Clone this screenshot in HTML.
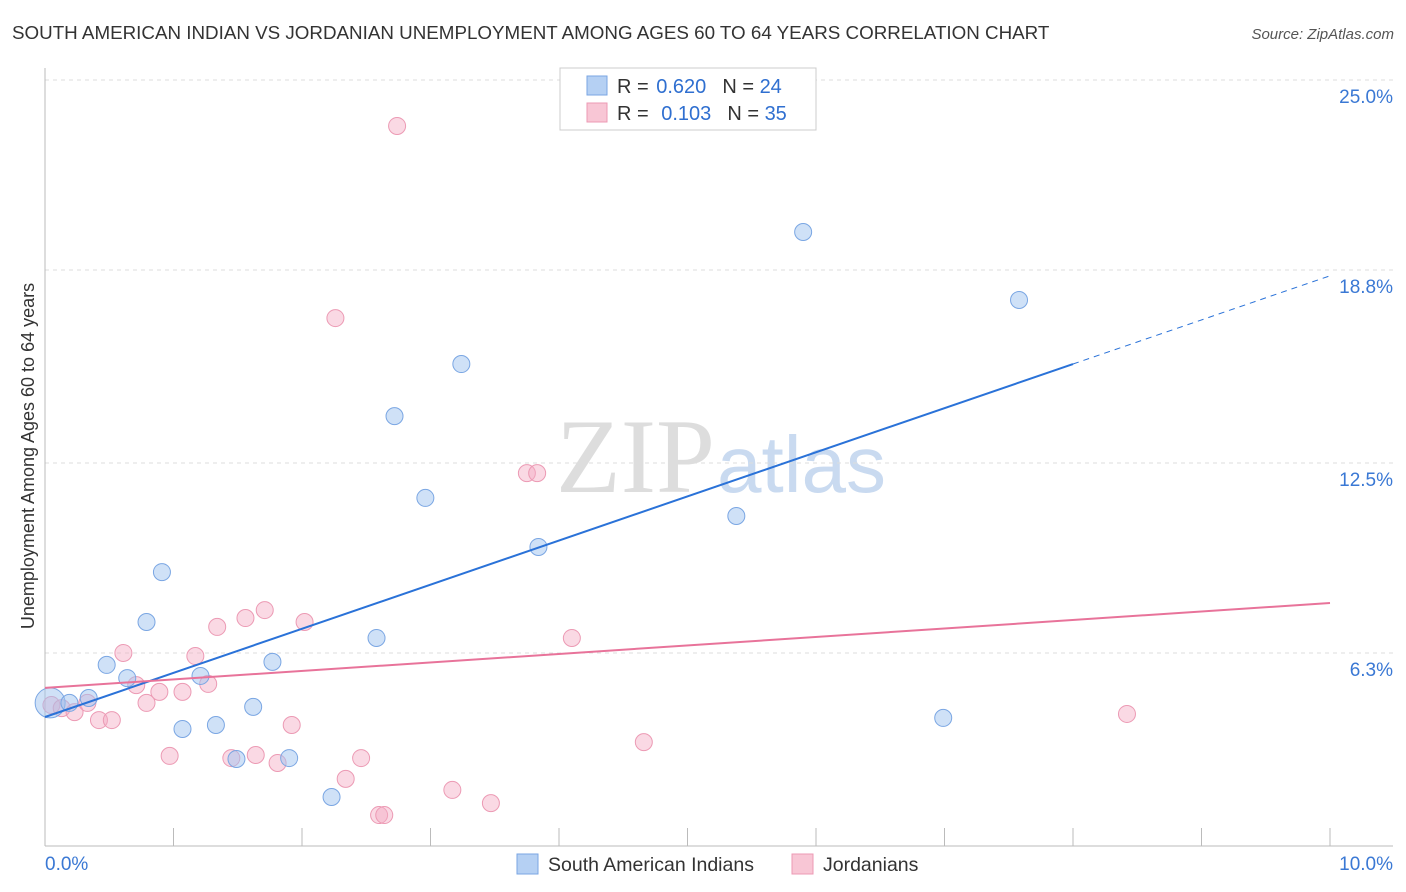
<!DOCTYPE html>
<html><head><meta charset="utf-8"><style>
body{margin:0;background:#fff;font-family:"Liberation Sans",sans-serif;}
#wrap{position:relative;width:1406px;height:892px;overflow:hidden;}
</style></head><body>
<div id="wrap">
<svg id="svg" width="1406" height="892">
<text x="12" y="39" font-size="18.8" fill="#333">SOUTH AMERICAN INDIAN VS JORDANIAN UNEMPLOYMENT AMONG AGES 60 TO 64 YEARS CORRELATION CHART</text>
<text x="1394" y="39" font-size="15" fill="#555" font-style="italic" text-anchor="end">Source: ZipAtlas.com</text>
<text x="715" y="492" font-size="106" fill="#ddd" text-anchor="end" font-family="Liberation Serif">ZIP</text>
<text x="717" y="492" font-size="80" fill="#c9daf0">atlas</text>
<text transform="translate(34,456) rotate(-90)" font-size="18" fill="#333" text-anchor="middle">Unemployment Among Ages 60 to 64 years</text>
<g id="grid"></g><g id="marks"></g>
<g>
<rect x="560" y="68" width="256" height="62" fill="#fff" stroke="#ccc"/>
<rect x="587" y="76" width="20" height="19" fill="#b5d0f3" stroke="#7aa6e3"/>
<rect x="587" y="103" width="20" height="19" fill="#f8c6d5" stroke="#ec9ab4"/>
<text x="617" y="93" font-size="20" fill="#333">R = <tspan fill="#2f6fd0" dx="2">0.620</tspan><tspan dx="16">N = </tspan><tspan fill="#2f6fd0">24</tspan></text>
<text x="617" y="120" font-size="20" fill="#333">R = <tspan fill="#2f6fd0" dx="7">0.103</tspan><tspan dx="16">N = </tspan><tspan fill="#2f6fd0">35</tspan></text>
</g>
<g>
<rect x="517" y="854" width="21" height="20" fill="#b5d0f3" stroke="#7aa6e3"/>
<text x="548" y="871" font-size="19.5" fill="#333">South American Indians</text>
<rect x="792" y="854" width="21" height="20" fill="#f8c6d5" stroke="#ec9ab4"/>
<text x="823" y="871" font-size="19.5" fill="#333">Jordanians</text>
</g>
</svg></div>
<script>
const blueX=[0.04,0.19,0.34,0.48,0.64,0.79,0.91,1.07,1.21,1.33,1.49,1.62,1.77,1.90,2.23,2.58,2.72,2.96,3.24,3.84,5.38,5.90,6.99,7.58];
const blueY=[4.67,4.67,4.83,5.91,5.48,7.31,8.94,3.82,5.55,3.95,2.84,4.54,6.01,2.87,1.60,6.79,14.03,11.36,15.73,9.76,10.77,20.04,4.18,17.82];
const pinkX=[0.05,0.13,0.23,0.33,0.42,0.52,0.61,0.71,0.79,0.89,0.97,1.07,1.17,1.27,1.34,1.45,1.56,1.64,1.71,1.81,1.92,2.02,2.26,2.34,2.46,2.60,2.64,2.74,3.17,3.47,3.75,3.83,4.10,4.66,8.42];
const pinkY=[4.60,4.50,4.37,4.67,4.11,4.11,6.30,5.25,4.67,5.03,2.94,5.03,6.20,5.29,7.15,2.87,7.44,2.97,7.70,2.71,3.95,7.31,17.23,2.19,2.87,1.01,1.01,23.50,1.83,1.40,12.17,12.17,6.79,3.39,4.31];
const blueTrend=[4.21,1.44,8.0];
const pinkTrend=[5.16,0.277];
const yTicks=[6.3,12.5,18.8,25.0];
const yTickLabels=["6.3%","12.5%","18.8%","25.0%"];
const xTicks=[0,1,2,3,4,5,6,7,8,9,10];
const NS="http://www.w3.org/2000/svg";
const sx=v=>45+v*128.5, sy=v=>846-v*30.64;
function mk(t,a,p){const e=document.createElementNS(NS,t);for(const k in a)e.setAttribute(k,a[k]);p.appendChild(e);return e;}
const g=document.getElementById('grid'), m=document.getElementById('marks');
yTicks.forEach((v,i)=>{
 const l=mk('line',{x1:45,x2:1393,y1:sy(v),y2:sy(v),stroke:'#ddd','stroke-dasharray':'4,4'},g);
 
 
 const t=mk('text',{x:1393,y:sy(v)+23,'font-size':19,fill:'#3a78d4','text-anchor':'end'},g);
 t.textContent=yTickLabels[i];
 
 
});
const topLine=mk('line',{x1:45,x2:1393,y1:80,y2:80,stroke:'#ddd','stroke-dasharray':'4,4'},g);


const ax=mk('line',{x1:45,x2:1393,y1:846,y2:846,stroke:'#bbb'},g);


const ay=mk('line',{x1:45,x2:45,y1:68,y2:846,stroke:'#bbb'},g);


xTicks.forEach(v=>{const l=mk('line',{x1:sx(v),x2:sx(v),y1:828,y2:846,stroke:'#bbb'},g);
 
 });
[[0,"0.0%",'start',45],[10,"10.0%",'end',1393]].forEach(d=>{const t=mk('text',{x:d[3],y:870,'font-size':19,fill:'#3a78d4','text-anchor':d[2]},g);t.textContent=d[1];
 
 });
pinkX.forEach((x,i)=>{const c=mk('circle',{cx:sx(x),cy:sy(pinkY[i]),r:8.5,fill:'rgba(245,170,195,0.45)',stroke:'#ec9ab4','stroke-width':1},m);
 
 });
blueX.forEach((x,i)=>{const c=mk('circle',{cx:sx(x),cy:sy(blueY[i]),r:i==0?15:8.5,fill:'rgba(160,195,240,0.5)',stroke:'#7aa6e3','stroke-width':1},m);
 
 });
const bl=mk('line',{x1:sx(0),y1:sy(blueTrend[0]),x2:sx(blueTrend[2]),y2:sy(blueTrend[0]+blueTrend[1]*blueTrend[2]),stroke:'#2a72d8','stroke-width':2},m);


const bd=mk('line',{x1:sx(blueTrend[2]),y1:sy(blueTrend[0]+blueTrend[1]*blueTrend[2]),x2:sx(10),y2:sy(blueTrend[0]+blueTrend[1]*10),stroke:'#2a72d8','stroke-width':1,'stroke-dasharray':'6,5'},m);


const pl=mk('line',{x1:sx(0),y1:sy(pinkTrend[0]),x2:sx(10),y2:sy(pinkTrend[0]+pinkTrend[1]*10),stroke:'#e8739a','stroke-width':2},m);


</script>
</body></html>
